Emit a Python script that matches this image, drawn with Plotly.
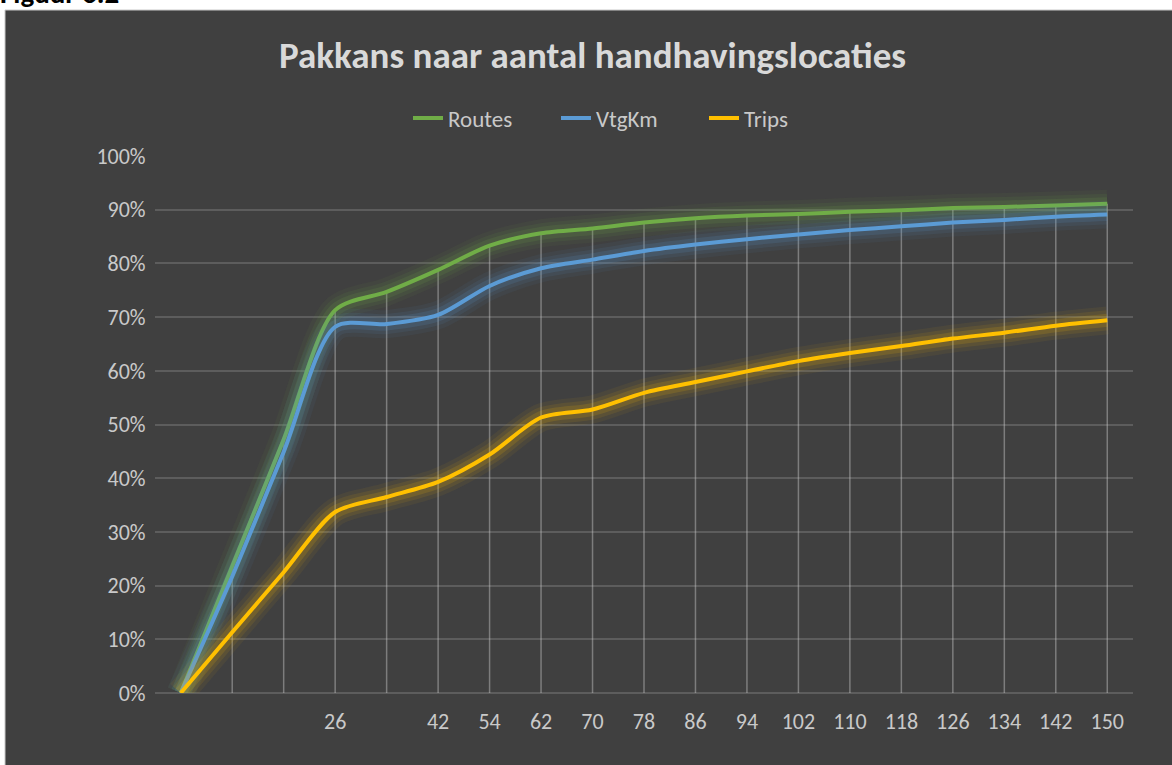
import plotly.graph_objects as go

# ---- data ----
categories = ["", "", "", "26", "", "42", "54", "62", "70", "78", "86",
              "94", "102", "110", "118", "126", "134", "142", "150"]
routes = [0, 23.6, 47.2, 71.3, 74.7, 78.8, 83.3, 85.6, 86.5, 87.6, 88.4,
          88.9, 89.2, 89.6, 89.9, 90.3, 90.5, 90.8, 91.1]
vtgkm = [0, 21.7, 44.9, 68.2, 68.7, 70.4, 75.8, 79.1, 80.7, 82.3, 83.5,
         84.5, 85.4, 86.2, 86.9, 87.6, 88.1, 88.7, 89.1]
trips = [0, 11.3, 22.5, 33.7, 36.5, 39.3, 44.4, 51.3, 52.8, 55.9, 57.9,
         59.9, 61.8, 63.3, 64.6, 66.0, 67.1, 68.4, 69.4]
series_names = ["Routes", "VtgKm", "Trips"]
y_ticks = [0, 10, 20, 30, 40, 50, 60, 70, 80, 90, 100]

# ---- styling ----
BG = "#404040"
FONT = "Carlito, Lato, 'Open Sans', sans-serif"
colors = {"Routes": (112, 173, 71), "VtgKm": (91, 155, 213), "Trips": (255, 192, 0)}

W, H = 1172, 765
L, R, T, B = 155, 39, 156, 72
pw = W - L - R
ph = H - T - B


def px_x(px):
    return (px - L) / pw


def px_y(py):
    return (H - B - py) / ph


x = list(range(len(categories)))
tickvals = [i for i, c in enumerate(categories) if c]
ticktext = [c for c in categories if c]

fig = go.Figure()

# drop lines from the highest series down to the axis
dx, dy = [], []
for i, v in enumerate(routes):
    dx += [x[i], x[i], None]
    dy += [0, v, None]
fig.add_trace(go.Scatter(x=dx, y=dy, mode="lines", hoverinfo="skip",
                         line=dict(color="rgba(200,200,200,0.45)", width=1.5),
                         showlegend=False))

for name, vals in zip(series_names, [routes, vtgkm, trips]):
    r, g, b = colors[name]
    for w, a in [(28, 0.06), (20, 0.09), (13, 0.14)]:
        fig.add_trace(go.Scatter(x=x, y=vals, mode="lines", hoverinfo="skip",
                                 line=dict(color=f"rgba({r},{g},{b},{a})", width=w,
                                           shape="spline", smoothing=0.8),
                                 showlegend=False))
    fig.add_trace(go.Scatter(x=x, y=vals, mode="lines", name=name,
                             line=dict(color=f"rgb({r},{g},{b})", width=4,
                                       shape="spline", smoothing=0.8)))

# dark chart area with light border
fig.add_shape(type="rect", xref="paper", yref="paper", layer="below",
              x0=px_x(5), x1=px_x(1180), y0=px_y(775), y1=px_y(10),
              fillcolor=BG, line=dict(color="#c8c8c8", width=1))

fig.add_annotation(text="<b>Pakkans naar aantal handhavingslocaties</b>",
                   xref="paper", yref="paper", x=px_x(592), y=px_y(55),
                   xanchor="center", yanchor="middle", showarrow=False,
                   font=dict(family=FONT, size=37, color="#d9d9d9"))

fig.add_annotation(text="<b>Figuur 6.2</b>", xref="paper", yref="paper",
                   x=px_x(-2), y=px_y(13), xanchor="left", yanchor="bottom",
                   showarrow=False, font=dict(family=FONT, size=29, color="#000000"))

fig.update_layout(
    width=W, height=H,
    margin=dict(l=L, r=R, t=T, b=B),
    paper_bgcolor="white",
    plot_bgcolor=BG,
    font=dict(family=FONT, size=22, color="#c9c9c9"),
    legend=dict(orientation="h", x=px_x(408), y=px_y(118), xanchor="left",
                yanchor="middle", bgcolor="rgba(0,0,0,0)",
                font=dict(family=FONT, size=23, color="#c9c9c9"),
                entrywidth=103, entrywidthmode="pixels",
                tracegroupgap=0),
    showlegend=True,
)
fig.update_xaxes(range=[-0.5, 18.5], tickmode="array", tickvals=tickvals,
                 ticktext=ticktext, showgrid=False, zeroline=False,
                 showline=False, ticks="outside", ticklen=9,
                 tickcolor="rgba(0,0,0,0)", tickfont=dict(size=22, color="#c9c9c9"))
fig.update_yaxes(range=[0, 100], tickmode="array", tickvals=y_ticks,
                 ticktext=[f"{v}%" for v in y_ticks], showgrid=True,
                 gridcolor="#5d5d5d", gridwidth=1.5, zeroline=True,
                 zerolinecolor="#5d5d5d", zerolinewidth=1.5, showline=False,
                 ticks="outside", ticklen=4, tickcolor="rgba(0,0,0,0)",
                 tickfont=dict(size=22, color="#c9c9c9"))

fig.write_html("out.html", post_script="document.body.style.margin='0';",
               config={"displayModeBar": False})
